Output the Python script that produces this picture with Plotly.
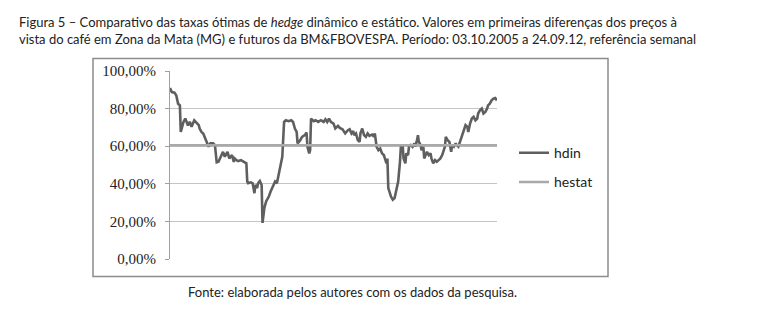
import pandas as pd
import plotly.graph_objects as go

# week offsets (from 03.10.2005) and hedge ratios (%)
weeks = [0, 2, 5, 7, 9, 11, 12, 15, 17, 20, 22, 24, 27, 30, 32, 33, 35, 37, 39, 41,
         43, 45, 48, 50, 52, 54, 57, 59, 61, 64, 66, 69, 71, 72, 74, 76, 79, 82, 85, 86,
         87, 90, 92, 94, 95, 97, 98, 100, 102, 103, 105, 107, 110, 112, 115, 117, 119, 121, 123, 125,
         127, 129, 132, 135, 137, 139, 141, 142, 145, 147, 150, 152, 153, 155, 156, 157, 160, 162, 165, 168,
         171, 173, 175, 177, 179, 182, 184, 187, 189, 192, 195, 198, 200, 202, 204, 205, 207, 209, 211, 212,
         214, 216, 218, 220, 222, 225, 227, 228, 230, 232, 234, 236, 238, 240, 241, 242, 243, 246, 248, 250,
         251, 253, 254, 256, 257, 259, 260, 262, 263, 265, 266, 268, 270, 272, 273, 275, 276, 277, 279, 280,
         282, 283, 285, 286, 288, 290, 291, 293, 295, 297, 299, 301, 303, 304, 306, 307, 309, 311, 313, 314,
         316, 318, 319, 321, 323, 325, 327, 329, 331, 332, 334, 336, 338, 340, 342, 343, 345, 347, 349, 351,
         353, 354, 356, 358, 360, 362, 364]
hdin = [90.9, 88.8, 88.5, 87.0, 82.6, 81.7, 67.6, 72.9, 74.7, 71.0, 73.0, 70.3, 73.8, 72.0, 71.2, 69.4, 67.6, 66.8, 64.1, 61.5,
        59.7, 61.5, 61.5, 60.6, 51.4, 51.7, 54.4, 57.0, 54.4, 57.0, 53.5, 55.3, 51.7, 53.5, 52.6, 52.1, 52.6, 51.7, 50.9, 41.2,
        40.3, 40.8, 40.3, 35.0, 39.4, 37.7, 40.3, 41.5, 39.4, 19.2, 27.1, 30.6, 33.2, 35.9, 39.4, 41.2, 40.3, 44.7, 50.0, 54.4,
        72.9, 73.8, 73.3, 73.8, 72.9, 69.4, 67.6, 61.5, 63.2, 65.0, 65.9, 67.3, 59.7, 56.2, 57.9, 74.7, 73.3, 73.8, 72.9, 73.8,
        72.9, 74.3, 72.9, 74.7, 72.9, 72.0, 69.4, 70.8, 69.7, 69.0, 66.8, 68.5, 69.0, 66.8, 68.0, 65.9, 66.8, 63.2, 62.3, 66.8,
        69.4, 65.9, 65.0, 66.8, 65.5, 66.2, 65.0, 66.8, 59.7, 57.9, 58.8, 56.2, 55.3, 51.7, 50.9, 53.5, 37.7, 33.2, 31.5, 32.4,
        35.0, 40.3, 41.2, 51.7, 59.7, 60.6, 53.5, 50.9, 56.2, 55.3, 59.7, 60.6, 59.7, 61.5, 59.7, 63.2, 65.9, 62.3, 60.6, 57.9,
        59.7, 53.5, 55.3, 57.0, 55.3, 56.2, 53.5, 50.9, 52.6, 51.7, 52.6, 53.5, 55.3, 57.0, 59.7, 65.0, 63.2, 62.3, 57.0, 60.6,
        59.7, 61.5, 60.6, 59.7, 62.3, 65.9, 67.6, 71.2, 70.3, 67.6, 72.0, 74.7, 75.6, 73.8, 74.7, 77.4, 79.1, 80.0, 77.4, 78.2,
        80.0, 81.7, 82.6, 84.4, 85.3, 85.6, 84.4]
hestat_value = 60.5
y_ticks = [0, 20, 40, 60, 80, 100]

start = pd.Timestamp("2005-10-03")
end = pd.Timestamp("2012-09-24")
dates = [start + pd.Timedelta(days=7 * w) for w in weeks]
hdin_frac = [v / 100 for v in hdin]

TXT = "Lato, Roboto, sans-serif"

fig = go.Figure()
fig.add_trace(go.Scatter(x=dates, y=hdin_frac, mode="lines", name="hdin",
                         legendgroup="a",
                         line=dict(color="#5f5f5f", width=2.6)))
fig.add_trace(go.Scatter(x=[start, end], y=[hestat_value / 100] * 2, mode="lines", name="hestat",
                         legendgroup="b",
                         line=dict(color="#a9a9a9", width=2.4)))

# page body has an 8px margin, so the figure is drawn 8px smaller and offset
OFF = 8
L, R, T, B = 170, 497, 70.5, 259.5   # plot area in screen pixels
W, H = 765 - OFF, 320 - OFF
pw, ph = R - L, B - T

def px_x(p):
    return (p - L) / pw

def px_y(p):
    return (B - p) / ph

fig.update_layout(
    width=W, height=H,
    margin=dict(l=L - OFF, r=W - (R - OFF), t=T - OFF, b=H - (B - OFF), pad=0),
    paper_bgcolor="white", plot_bgcolor="white",
    separators=",.",
    showlegend=True,
    legend=dict(x=px_x(514), y=px_y(137), xanchor="left", yanchor="top",
                font=dict(family=TXT, size=14, color="#222"),
                tracegroupgap=8, itemwidth=30, bgcolor="rgba(0,0,0,0)"),
    xaxis=dict(range=[start, end], showticklabels=False, showgrid=False,
               zeroline=False, showline=False, ticks=""),
    yaxis=dict(range=[0, 1], tickvals=[t / 100 for t in y_ticks], tickformat=".2%",
               showgrid=True, gridcolor="#c4c4c4", gridwidth=1,
               zeroline=False, showline=True, linecolor="#a0a0a0", linewidth=1,
               ticks="outside", ticklen=4, tickcolor="#a0a0a0",
               ticklabelstandoff=6,
               tickfont=dict(family="'Liberation Serif', serif", size=15, color="#222")),
    font=dict(family=TXT, color="#222"),
)

fig.add_annotation(xref="paper", yref="paper", x=px_x(17), y=px_y(11),
                   xanchor="left", yanchor="top", align="left", showarrow=False,
                   text="Figura 5 – Comparativo das taxas ótimas de <i>hedge</i> dinâmico e estático. Valores em primeiras diferenças dos preços à<br>"
                        "vista do café em Zona da Mata (MG) e futuros da BM&FBOVESPA. Período: 03.10.2005 a 24.09.12, referência semanal",
                   font=dict(family=TXT, size=13, color="#222"))
fig.add_annotation(xref="paper", yref="paper", x=px_x(352), y=px_y(293),
                   xanchor="center", yanchor="middle", showarrow=False,
                   text="Fonte: elaborada pelos autores com os dados da pesquisa.",
                   font=dict(family=TXT, size=13, color="#222"))

fig.add_shape(type="rect", xref="paper", yref="paper",
              x0=px_x(93), x1=px_x(608), y0=px_y(277), y1=px_y(58),
              line=dict(color="#8c8c8c", width=1.5), layer="below")

fig.write_html("out.html")
